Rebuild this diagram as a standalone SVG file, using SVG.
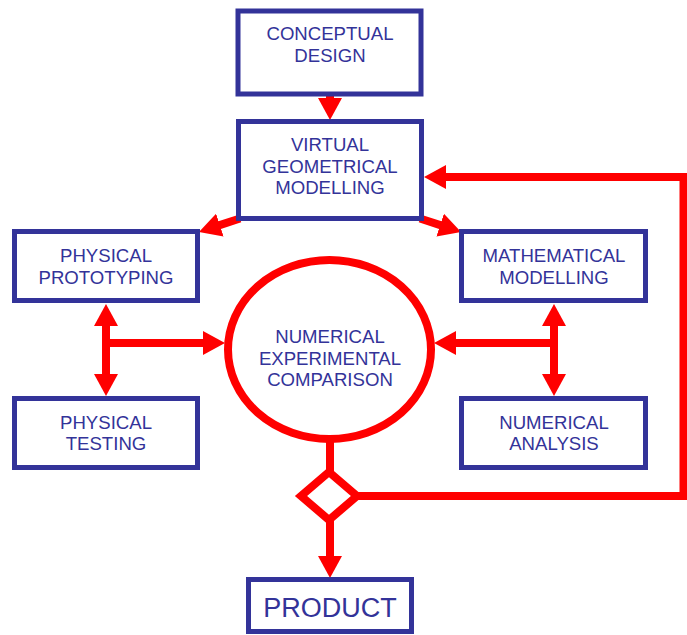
<svg xmlns="http://www.w3.org/2000/svg" width="687" height="635" viewBox="0 0 687 635">
<style>
.box{fill:#fff;stroke:#333399;stroke-width:5}
.t{font-family:"Liberation Sans",Arial,sans-serif;font-size:18.6px;fill:#333399;text-anchor:middle}
.c{fill:none;stroke:#ff0000;stroke-width:8}
.ah{marker-end:url(#ah)}
.dh{marker-start:url(#ah);marker-end:url(#ah)}
</style>
<defs>
<marker id="ah" viewBox="0 0 22 24" refX="1" refY="12" markerWidth="22" markerHeight="24" markerUnits="userSpaceOnUse" orient="auto-start-reverse">
<path d="M0,0 L22,12 L0,24 z" fill="#ff0000"/>
</marker>
</defs>
<rect width="687" height="635" fill="#fff"/>
<g id="connectors">
<line class="c ah" x1="330" y1="94" x2="330" y2="99"/>
<line class="c ah" x1="240" y1="218.5" x2="218.9" y2="225.4"/>
<line class="c ah" x1="420" y1="218.5" x2="441.1" y2="225.4"/>
<line class="c dh" x1="106" y1="325" x2="106" y2="375"/>
<line class="c ah" x1="102" y1="343" x2="204" y2="343"/>
<line class="c dh" x1="554" y1="325" x2="554" y2="375"/>
<line class="c ah" x1="558" y1="343" x2="455" y2="343"/>
<line class="c" x1="330" y1="440" x2="330" y2="472"/>
<line class="c ah" x1="330" y1="519" x2="330" y2="557"/>
<polyline class="c ah" points="356,496 683.5,496 683.5,177 445,177"/>
</g>
<g id="conceptual-design">
<rect class="box" x="238" y="11" width="183" height="83"/>
<text class="t" x="330" y="40">CONCEPTUAL</text>
<text class="t" x="330" y="62">DESIGN</text>
</g>
<g id="virtual-geometrical-modelling">
<rect class="box" x="238.5" y="121.5" width="183" height="97"/>
<text class="t" x="330" y="151">VIRTUAL</text>
<text class="t" x="330" y="173">GEOMETRICAL</text>
<text class="t" x="330" y="194">MODELLING</text>
</g>
<g id="physical-prototyping">
<rect class="box" x="14.5" y="231.5" width="183" height="69"/>
<text class="t" x="106" y="262">PHYSICAL</text>
<text class="t" x="106" y="284">PROTOTYPING</text>
</g>
<g id="physical-testing">
<rect class="box" x="14.5" y="398.5" width="183" height="69"/>
<text class="t" x="106" y="429">PHYSICAL</text>
<text class="t" x="106" y="450">TESTING</text>
</g>
<g id="mathematical-modelling">
<rect class="box" x="461.5" y="231.5" width="184" height="69"/>
<text class="t" x="554" y="262">MATHEMATICAL</text>
<text class="t" x="554" y="284">MODELLING</text>
</g>
<g id="numerical-analysis">
<rect class="box" x="461.5" y="398.5" width="184" height="69"/>
<text class="t" x="554" y="429">NUMERICAL</text>
<text class="t" x="554" y="450">ANALYSIS</text>
</g>
<g id="numerical-experimental-comparison">
<ellipse cx="329.5" cy="349.5" rx="101.5" ry="89.5" fill="#fff" stroke="#ff0000" stroke-width="8"/>
<text class="t" x="330" y="343">NUMERICAL</text>
<text class="t" x="330" y="364.5">EXPERIMENTAL</text>
<text class="t" x="330" y="386">COMPARISON</text>
</g>
<g id="decision">
<polygon points="329,472 357,496 329,520 301,496" fill="#fff" stroke="#ff0000" stroke-width="8" stroke-linejoin="miter"/>
</g>
<g id="product">
<rect class="box" x="248.5" y="579.5" width="163" height="52"/>
<text class="t" x="330" y="617" style="font-size:27px">PRODUCT</text>
</g>
</svg>
